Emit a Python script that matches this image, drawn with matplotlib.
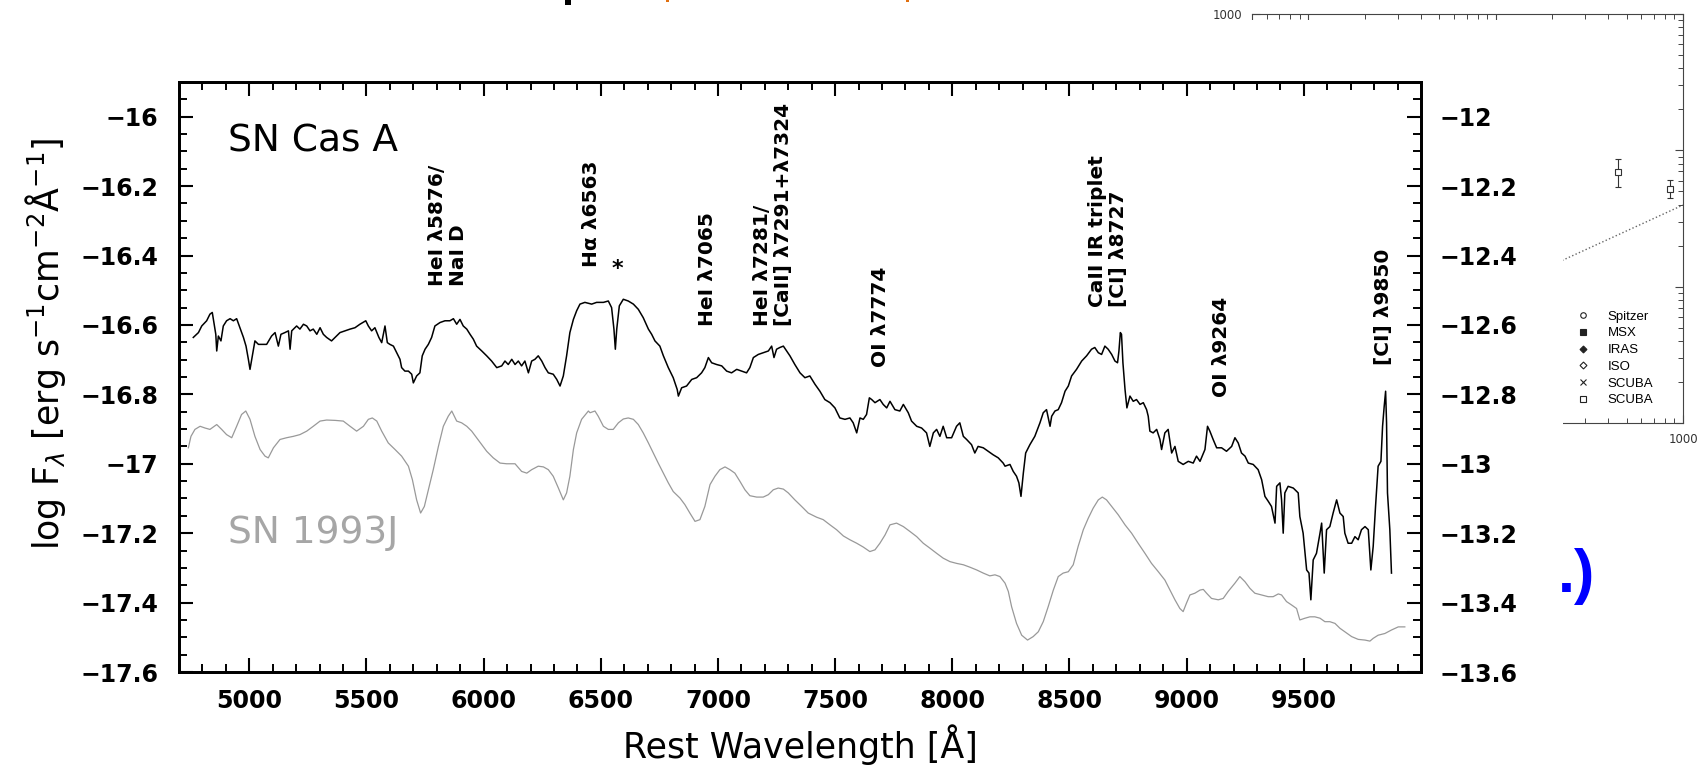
import matplotlib
matplotlib.use("Agg")
import matplotlib.pyplot as plt
from matplotlib.ticker import MultipleLocator, FixedLocator, FuncFormatter, NullFormatter
from matplotlib.patches import Rectangle
from matplotlib.lines import Line2D

W, H = 1697, 767

casa_wave = [
    4761, 4783, 4797, 4818, 4832, 4842, 4851, 4857, 4861, 4868,
    4879, 4889, 4903, 4918, 4932, 4946, 4960, 4975, 4986, 4996,
    5003, 5013, 5024, 5039, 5056, 5074, 5095, 5110, 5124, 5135,
    5152, 5167, 5174, 5181, 5202, 5216, 5231, 5245, 5259, 5273,
    5288, 5302, 5316, 5330, 5351, 5366, 5387, 5408, 5430, 5451,
    5472, 5497, 5508, 5522, 5536, 5553, 5565, 5579, 5589, 5600,
    5615, 5629, 5643, 5650, 5664, 5679, 5693, 5700, 5714, 5728,
    5738, 5750, 5764, 5778, 5792, 5814, 5835, 5856, 5871, 5885,
    5899, 5913, 5928, 5942, 5956, 5970, 5992, 6013, 6034, 6056,
    6077, 6091, 6105, 6120, 6134, 6148, 6162, 6176, 6191, 6205,
    6219, 6233, 6248, 6262, 6276, 6297, 6312, 6326, 6340, 6354,
    6368, 6383, 6397, 6411, 6432, 6461,
    6482, 6511, 6532, 6546, 6556, 6562, 6568, 6579, 6596, 6617,
    6639, 6660, 6681, 6703, 6717, 6731, 6752, 6767, 6788, 6809,
    6826, 6831, 6845, 6866, 6888, 6909, 6930, 6944, 6959, 6973,
    6994, 7016, 7037, 7058, 7080, 7101, 7122, 7136, 7151, 7172,
    7193, 7215, 7229, 7239, 7250, 7264, 7279, 7293, 7307, 7328,
    7350, 7371, 7392, 7414, 7435, 7456, 7478, 7499, 7520, 7542,
    7563, 7577, 7592, 7606, 7620, 7634, 7646, 7656, 7670, 7691,
    7705, 7720, 7734, 7755, 7776, 7791, 7812, 7826, 7848, 7869,
    7890, 7904, 7919, 7933, 7947, 7961, 7976, 7997, 8018, 8032,
    8047, 8061, 8082, 8096, 8110, 8132, 8153, 8174, 8196, 8217,
    8225, 8246, 8260, 8274, 8284, 8293, 8303, 8313, 8331, 8352,
    8374, 8388, 8402, 8417, 8424, 8438, 8452, 8466, 8481, 8495,
    8509, 8530, 8552, 8573, 8594, 8608, 8623, 8637, 8651, 8665,
    8680, 8694, 8705, 8711, 8717, 8722, 8728, 8737, 8745, 8758,
    8772, 8786, 8801, 8815, 8829, 8836, 8843, 8857, 8872, 8886,
    8893, 8907, 8921, 8936, 8950, 8964, 8985, 9007, 9028, 9042,
    9057, 9078, 9089, 9099, 9113, 9128, 9149, 9170, 9192, 9206,
    9220, 9234, 9249, 9263, 9284, 9305, 9320, 9334, 9348, 9362,
    9377, 9384, 9398, 9405, 9412, 9419, 9433, 9455, 9476, 9483,
    9497, 9512, 9522, 9530, 9540, 9554, 9569, 9576, 9587, 9597,
    9611, 9625, 9640, 9654, 9668, 9675, 9689, 9704, 9718, 9732,
    9746, 9761, 9775, 9786, 9796, 9806, 9817, 9829, 9836, 9843,
    9849, 9853, 9857, 9867, 9874,
]
casa_flux = [
    -16.636, -16.622, -16.603, -16.588, -16.569, -16.564, -16.603, -16.627, -16.675, -16.632,
    -16.646, -16.603, -16.588, -16.582, -16.588, -16.582, -16.608, -16.636, -16.661, -16.699,
    -16.728, -16.689, -16.646, -16.656, -16.656, -16.656, -16.632, -16.622, -16.661, -16.627,
    -16.622, -16.617, -16.670, -16.617, -16.603, -16.612, -16.598, -16.603, -16.617, -16.612,
    -16.627, -16.608, -16.627, -16.636, -16.646, -16.636, -16.622, -16.617, -16.612, -16.608,
    -16.598, -16.588, -16.603, -16.617, -16.608, -16.636, -16.651, -16.603, -16.651, -16.656,
    -16.661, -16.680, -16.699, -16.723, -16.733, -16.733, -16.742, -16.767, -16.747, -16.738,
    -16.689, -16.670, -16.656, -16.636, -16.603, -16.593, -16.588, -16.588, -16.582, -16.598,
    -16.584, -16.603, -16.612, -16.627, -16.641, -16.661, -16.675, -16.689, -16.704, -16.723,
    -16.718, -16.704, -16.714, -16.699, -16.714, -16.704, -16.718, -16.704, -16.738, -16.704,
    -16.699, -16.689, -16.704, -16.723, -16.738, -16.742, -16.757, -16.776, -16.747, -16.689,
    -16.622, -16.584, -16.559, -16.540, -16.535, -16.540,
    -16.535, -16.535, -16.531, -16.550, -16.612, -16.670, -16.612, -16.545, -16.526, -16.531,
    -16.540, -16.555, -16.579, -16.612, -16.627, -16.646, -16.661, -16.689, -16.723, -16.752,
    -16.786, -16.805, -16.781, -16.776, -16.757, -16.752, -16.738, -16.723, -16.694, -16.709,
    -16.714, -16.718, -16.733, -16.738, -16.728, -16.733, -16.738, -16.723, -16.694, -16.685,
    -16.680, -16.675, -16.661, -16.694, -16.670, -16.665, -16.661, -16.675, -16.689, -16.714,
    -16.738, -16.752, -16.747, -16.771, -16.791, -16.815, -16.824, -16.839, -16.868, -16.872,
    -16.868, -16.882, -16.911, -16.868, -16.872, -16.858, -16.810, -16.815, -16.824, -16.815,
    -16.829, -16.839, -16.820, -16.844, -16.848, -16.829, -16.853, -16.877, -16.892, -16.897,
    -16.911, -16.950, -16.911, -16.901, -16.921, -16.892, -16.925, -16.925, -16.892, -16.882,
    -16.921, -16.930, -16.945, -16.969, -16.950, -16.954, -16.964, -16.974, -16.983, -16.998,
    -17.007, -17.002, -17.022, -17.036, -17.055, -17.094, -17.027, -16.969, -16.945, -16.921,
    -16.882, -16.853, -16.844, -16.892, -16.863, -16.848, -16.844, -16.824, -16.791, -16.776,
    -16.747, -16.728, -16.704, -16.689, -16.670, -16.665, -16.680, -16.685, -16.661, -16.670,
    -16.685, -16.704, -16.709, -16.675, -16.622, -16.627, -16.709, -16.786, -16.839, -16.805,
    -16.820, -16.815, -16.829, -16.824, -16.844, -16.863, -16.906, -16.911, -16.901, -16.930,
    -16.959, -16.911, -16.901, -16.969, -16.950, -16.993, -17.002, -16.993, -16.998, -16.978,
    -16.993, -16.959, -16.892, -16.906, -16.930, -16.954, -16.954, -16.964, -16.950, -16.925,
    -16.940, -16.969, -16.978, -16.998, -17.002, -17.017, -17.046, -17.094, -17.108, -17.123,
    -17.171, -17.065, -17.055, -17.104, -17.200, -17.084, -17.065, -17.070, -17.084, -17.152,
    -17.200, -17.306, -17.315, -17.392, -17.277, -17.258, -17.200, -17.171, -17.315, -17.190,
    -17.181, -17.142, -17.104, -17.142, -17.152, -17.200, -17.229, -17.229, -17.210, -17.219,
    -17.190, -17.181, -17.190, -17.306, -17.238, -17.123, -17.007, -16.993, -16.892, -16.834,
    -16.791, -16.882, -17.084, -17.190, -17.315,
]

sn93j_wave = [
    4740, 4751, 4768, 4790, 4811, 4832, 4861, 4882, 4903, 4925,
    4946, 4967, 4985, 5003, 5024, 5046, 5067, 5081, 5103, 5131,
    5159, 5188, 5216, 5245, 5273, 5302, 5330, 5366, 5401, 5430,
    5458, 5487, 5508, 5525, 5544, 5565, 5593, 5622, 5650, 5679,
    5696, 5714, 5731, 5747, 5764, 5785, 5807, 5828, 5849, 5864,
    5885, 5906, 5928, 5949, 5970, 5992, 6013, 6041, 6070, 6098,
    6134, 6162, 6184, 6205, 6233, 6255, 6276, 6297, 6319, 6340,
    6354, 6368, 6383, 6397, 6418, 6447,
    6454, 6475, 6489, 6511, 6532, 6553, 6575, 6596, 6617, 6639,
    6660, 6681, 6703, 6724, 6745, 6767, 6788, 6809, 6838, 6859,
    6880, 6902, 6923, 6944, 6966, 6987, 7008, 7030, 7051, 7072,
    7094, 7115, 7136, 7165, 7193, 7215, 7236, 7257, 7279, 7300,
    7328, 7357, 7385, 7421, 7449, 7478, 7506, 7535, 7563, 7592,
    7620, 7648, 7670, 7691, 7713, 7734, 7762, 7791, 7819, 7848,
    7876, 7904, 7933, 7961, 7990, 8018, 8047, 8075, 8104, 8132,
    8160, 8182, 8203,
    8225, 8239, 8253, 8274, 8296, 8321, 8345, 8367, 8388, 8409,
    8431, 8452, 8473, 8495, 8516, 8537, 8559, 8580, 8601, 8623,
    8640, 8658, 8680, 8708, 8737, 8765, 8793, 8822, 8850, 8879,
    8907, 8929, 8950, 8971, 8985, 8999, 9014, 9035, 9057, 9071,
    9085, 9106, 9135, 9156, 9177, 9206, 9227, 9249, 9270, 9291,
    9320, 9348, 9369, 9391, 9405, 9426, 9448, 9469, 9483, 9505,
    9526, 9547, 9569, 9590, 9611, 9633, 9654, 9675, 9704, 9732,
    9761, 9782, 9796, 9817, 9846, 9874, 9903, 9931,
]
sn93j_flux = [
    -16.954, -16.921, -16.901, -16.892, -16.897, -16.901, -16.887, -16.901, -16.916, -16.925,
    -16.892, -16.858, -16.848, -16.872, -16.921, -16.959, -16.978, -16.983, -16.954, -16.930,
    -16.925, -16.921, -16.916, -16.906, -16.892, -16.877, -16.874, -16.875, -16.877, -16.892,
    -16.906, -16.892, -16.872, -16.868, -16.877, -16.906, -16.940, -16.959, -16.978, -17.007,
    -17.046, -17.104, -17.142, -17.123, -17.075, -17.017, -16.950, -16.892, -16.863, -16.848,
    -16.877, -16.882, -16.892, -16.906, -16.925, -16.945, -16.964, -16.983, -16.998, -17.000,
    -17.000, -17.022, -17.027, -17.017, -17.007, -17.009, -17.017, -17.036, -17.070, -17.104,
    -17.084, -17.036, -16.959, -16.911, -16.872, -16.848,
    -16.853, -16.848, -16.863, -16.892, -16.901, -16.901, -16.882, -16.871, -16.868, -16.872,
    -16.887, -16.911, -16.940, -16.969, -16.998, -17.027, -17.055, -17.080, -17.099, -17.118,
    -17.142, -17.166, -17.161, -17.123, -17.060, -17.036, -17.017, -17.009, -17.017, -17.027,
    -17.051, -17.075, -17.092, -17.096, -17.096, -17.089, -17.075, -17.070, -17.073, -17.084,
    -17.104, -17.123, -17.142, -17.154, -17.161, -17.176, -17.190, -17.208, -17.219, -17.229,
    -17.240, -17.253, -17.248, -17.229, -17.205, -17.176, -17.171, -17.181, -17.195, -17.210,
    -17.229, -17.243, -17.258, -17.272, -17.282, -17.287, -17.291, -17.298, -17.306, -17.315,
    -17.323, -17.320, -17.325,
    -17.344, -17.368, -17.412, -17.460, -17.494, -17.508, -17.498, -17.484, -17.455, -17.412,
    -17.364, -17.325, -17.315, -17.311, -17.291, -17.238, -17.190, -17.157, -17.128, -17.104,
    -17.096, -17.104, -17.123, -17.147, -17.176, -17.200, -17.229, -17.258, -17.287, -17.311,
    -17.335, -17.364, -17.392, -17.417, -17.426, -17.402, -17.378, -17.373, -17.364, -17.362,
    -17.373, -17.388, -17.392, -17.388, -17.368, -17.344, -17.325, -17.340, -17.359, -17.373,
    -17.378, -17.383, -17.383, -17.375, -17.378, -17.397, -17.407, -17.417, -17.450, -17.445,
    -17.441, -17.441, -17.445, -17.455, -17.455, -17.460, -17.474, -17.484, -17.498, -17.506,
    -17.508, -17.511, -17.503, -17.494, -17.489, -17.479, -17.470, -17.470,
]

x_ticks = [5000, 5500, 6000, 6500, 7000, 7500, 8000, 8500, 9000, 9500]

line_labels = ["HeI λ5876/\nNaI D", "Hα λ6563", "HeI λ7065",
               "HeI λ7281/\n[CaII] λ7291+λ7324", "OI λ7774",
               "CaII IR triplet\n[CI] λ8727", "OI λ9264", "[CI] λ9850"]
line_wave = [5848, 6462, 6957, 7235, 7695, 8664, 9150, 9842]
line_base = [-16.488, -16.434, -16.604, -16.604, -16.720, -16.549, -16.809, -16.714]

# background plot (far-IR SED) partly hidden behind the spectrum
scuba_wave = [450, 850]
scuba_flux = [69, 52]
scuba_err_lo = [15, 7]
scuba_err_hi = [17, 9]
model_wave = [200, 1000]
model_flux = [14.4, 39.7]
legend_labels = ["Spitzer", "MSX", "IRAS", "ISO", "SCUBA", "SCUBA"]
legend_markers = ["o", "s", "D", "D", "x", "s"]
legend_filled = [False, True, True, False, True, False]

assert len(casa_wave) == len(casa_flux)
assert len(sn93j_wave) == len(sn93j_flux)

fig = plt.figure(figsize=(W / 100, H / 100), dpi=100)

inset = fig.add_axes([1252 / W, 1 - 423 / H, 431 / W, 409 / H])
inset.set_zorder(-2)
inset.set_xscale("log")
inset.set_yscale("log")
inset.set_xlim(5, 1000)
inset.set_ylim(1, 1000)
inset.plot(model_wave, model_flux, ls=":", color="#666666", lw=1)
inset.errorbar(scuba_wave, scuba_flux, yerr=[scuba_err_lo, scuba_err_hi], fmt="s",
               mfc="white", mec="#333333", ecolor="#333333", ms=5, mew=0.8,
               elinewidth=0.8, capsize=2.5)
inset.tick_params(which="both", direction="in", top=True, right=True,
                  labelsize=8.5, labelcolor="#333333", color="#444444", pad=7)
inset.tick_params(which="major", length=6, width=0.8)
inset.tick_params(which="minor", length=3.5, width=0.7)
inset.xaxis.set_major_formatter(FuncFormatter(lambda v, p: "%d" % v))
inset.yaxis.set_major_formatter(FuncFormatter(lambda v, p: "%d" % v))
inset.xaxis.set_minor_formatter(NullFormatter())
inset.yaxis.set_minor_formatter(NullFormatter())
for s in inset.spines.values():
    s.set_linewidth(0.8)
    s.set_color("#444444")
handles = []
for m, f in zip(legend_markers, legend_filled):
    ms = 4 if m != "D" else 3.5
    handles.append(Line2D([], [], ls="none", marker=m, ms=ms, color="#222222",
                          mfc="#222222" if f else "white", mew=0.8))
inset.legend(handles, legend_labels, loc="upper left", bbox_to_anchor=(0.755, 0.275),
             frameon=False, prop={"family": "Liberation Sans", "size": 9.5},
             handlelength=0.8, handletextpad=1.5, labelspacing=0.34,
             borderpad=0, borderaxespad=0)

cover = Rectangle((0, 0), 1563 / W, 1 - 20 / H, transform=fig.transFigure,
                  facecolor="white", edgecolor="none", zorder=-1)
fig.add_artist(cover)

ax = fig.add_axes([179 / W, 1 - 672 / H, 1242 / W, 590 / H])
ax.plot(sn93j_wave, sn93j_flux, color="#999999", lw=0.9)
ax.plot(casa_wave, casa_flux, color="black", lw=1.1)
ax.set_xlim(4700, 10000)
ax.set_ylim(-17.6, -15.9)

fmt = FuncFormatter(lambda v, p: ("%g" % round(v, 3)).replace("-", "\u2212"))
ax.xaxis.set_major_locator(FixedLocator(x_ticks))
ax.xaxis.set_minor_locator(MultipleLocator(100))
ax.yaxis.set_major_locator(MultipleLocator(0.2))
ax.yaxis.set_minor_locator(MultipleLocator(0.05))
ax.yaxis.set_major_formatter(fmt)
ax.tick_params(which="both", direction="in", top=True, right=False)
ax.tick_params(which="major", length=10, width=1.5)
ax.tick_params(which="minor", length=5.5, width=1.4)
ax.tick_params(axis="x", pad=12)
ax.tick_params(axis="y", pad=15)
for lab in ax.get_xticklabels() + ax.get_yticklabels():
    lab.set_fontsize(17)
    lab.set_fontweight("bold")
for s in ax.spines.values():
    s.set_linewidth(2)

ax2 = ax.twinx()
ax2.set_ylim(-13.6, -11.9)
ax2.yaxis.set_major_locator(MultipleLocator(0.2))
ax2.yaxis.set_minor_locator(MultipleLocator(0.05))
ax2.yaxis.set_major_formatter(fmt)
ax2.tick_params(which="both", direction="in", right=True, pad=13)
ax2.tick_params(which="major", length=10, width=1.5)
ax2.tick_params(which="minor", length=5.5, width=1.4)
for lab in ax2.get_yticklabels():
    lab.set_fontsize(17)
    lab.set_fontweight("bold")
for s in ax2.spines.values():
    s.set_linewidth(2)

ax.text(4909, -16.101, "SN Cas A", fontsize=27, va="baseline", ha="left")
ax.text(4909, -17.228, "SN 1993J", fontsize=27, va="baseline", ha="left", color="#a6a6a6")

for lab, wv, yb in zip(line_labels, line_wave, line_base):
    ax.text(wv, yb, lab, rotation=90, ha="center", va="bottom", fontsize=14.5,
            fontweight="bold", multialignment="left", linespacing=1.15)
ax.text(6569, -16.457, "*", fontsize=16, fontweight="bold", ha="center", va="baseline")

fig.text(800 / W, 1 - 745 / H, "Rest Wavelength [Å]", fontsize=25, ha="center", va="center")
fig.text(46 / W, 1 - 344 / H,
         r"log F$_\lambda$ [erg s$^{-1}$cm$^{-2}$Å$^{-1}$]",
         fontsize=25, rotation=90, ha="center", va="center")

# bits of the slide around the picture
fig.add_artist(Rectangle((565 / W, 1 - 5 / H), 6 / W, 5 / H, transform=fig.transFigure,
                         facecolor="black", edgecolor="none"))
fig.add_artist(Rectangle((666 / W, 1 - 2 / H), 3 / W, 2 / H, transform=fig.transFigure,
                         facecolor="#e07010", edgecolor="none"))
fig.add_artist(Rectangle((906 / W, 1 - 2 / H), 3 / W, 2 / H, transform=fig.transFigure,
                         facecolor="#e07010", edgecolor="none"))
fig.text(1558 / W, 1 - 592 / H, ".)", color="#0000ff", fontsize=44, fontweight="bold",
         family="Liberation Sans", ha="left", va="baseline", zorder=5)

fig.savefig("out.png", dpi=100)
